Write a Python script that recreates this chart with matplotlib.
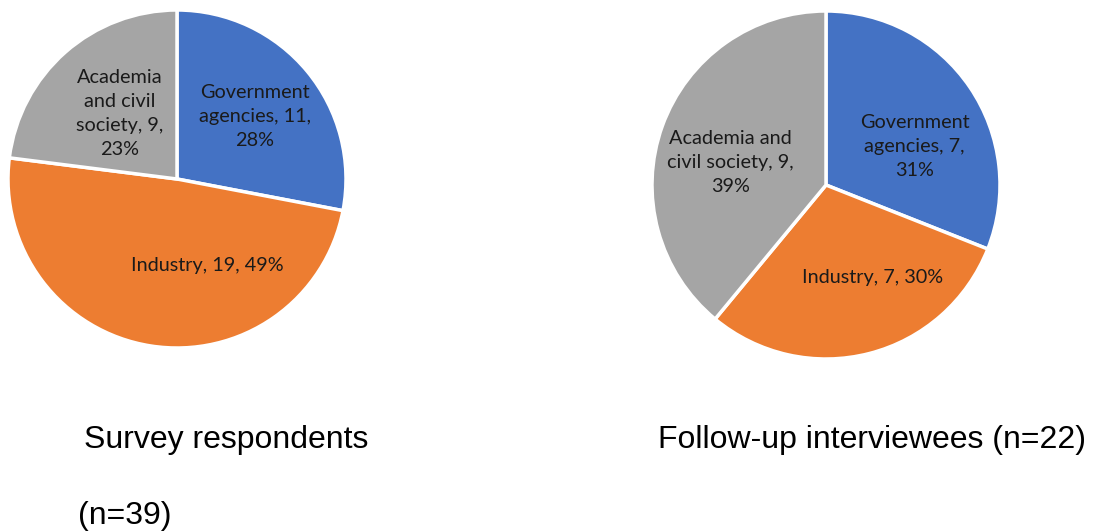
import matplotlib.pyplot as plt

# data
survey_counts = [11, 19, 9]
survey_pct = [28, 49, 23]
interview_counts = [7, 7, 9]
interview_pct = [31, 30, 39]
titles = ['Survey respondents', '(n=39)', 'Follow-up interviewees (n=22)']

# label wrapping as in the original (name, count, pct filled in)
survey_fmt = ['Government\nagencies, {n},\n{p}%', 'Industry, {n}, {p}%',
              'Academia\nand civil\nsociety, {n},\n{p}%']
interview_fmt = ['Government\nagencies, {n},\n{p}%', 'Industry, {n}, {p}%',
                 'Academia and\ncivil society, {n},\n{p}%']

colors = ['#4472C4', '#ED7D31', '#A5A5A5']
W, H = 1093, 531

fig = plt.figure(figsize=(W / 100, H / 100), dpi=100)
ax = fig.add_axes([0, 0, 1, 1])


def draw_pie(cx, cy, r, pct, counts, fmts, label_pos):
    ax.pie(pct, colors=colors, startangle=90, counterclock=False,
           center=(cx, cy), radius=r, frame=True,
           wedgeprops=dict(edgecolor='white', linewidth=2.5))
    for f, n, p, (dx, dy) in zip(fmts, counts, pct, label_pos):
        ax.text(cx + dx * r, cy + dy * r, f.format(n=n, p=p),
                ha='center', va='center', fontsize=14.3, family='Lato',
                linespacing=1.5, color='#1a1a1a')


# left pie
draw_pie(177, H - 179, 169, survey_pct, survey_counts, survey_fmt,
         [(0.46, 0.37), (0.18, -0.51), (-0.34, 0.39)])

# right pie
draw_pie(826, H - 185, 174, interview_pct, interview_counts, interview_fmt,
         [(0.51, 0.22), (0.27, -0.53), (-0.55, 0.13)])

ax.set_xlim(0, W)
ax.set_ylim(0, H)
ax.set_aspect('equal')
ax.axis('off')

ax.text(84, H - 440, titles[0], ha='left', va='center', fontsize=23, family='Liberation Sans')
ax.text(78, H - 516, titles[1], ha='left', va='center', fontsize=23, family='Liberation Sans')
ax.text(658, H - 440, titles[2], ha='left', va='center', fontsize=23, family='Liberation Sans')

fig.savefig('out.png', dpi=100)
